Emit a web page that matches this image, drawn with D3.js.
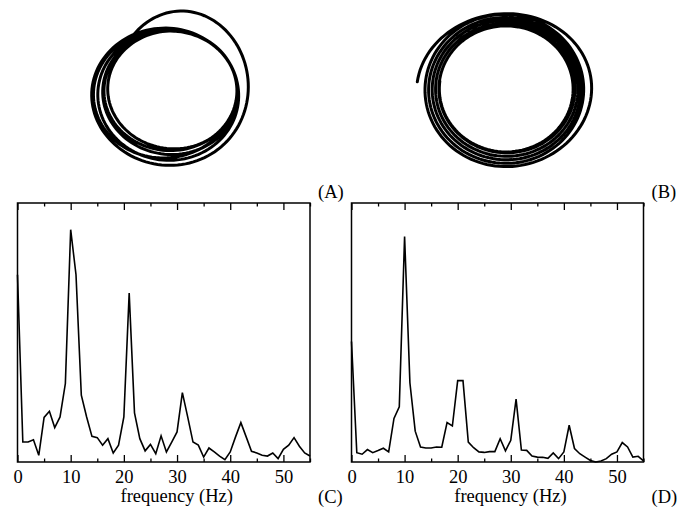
<!DOCTYPE html>
<html lang="en">
<head>
    <meta charset="UTF-8">
    <script src="https://d3js.org/d3.v7.min.js"></script>
    <title>Phase loops and spectra</title>
    <style>
        body { margin: 0; background: #fff; }
        svg text { font-family: "Liberation Serif", Times, "Times New Roman", "Nimbus Roman", "DejaVu Serif", serif !important; }
    </style>
</head>
<body>
    <script>
        // Spectrum amplitudes at 0..55 Hz (arbitrary units)
        const freqs = d3.range(0, 56);
        const spectrumC = [72.3, 7.7, 7.7, 8.6, 2.6, 17.2, 19.6, 13.3, 17.4, 30.3,
            89.7, 72.3, 25.8, 17.4, 9.9, 9.4, 6.5, 9.0, 3.5, 6.5,
            17.4, 65.2, 19.0, 9.0, 4.3, 6.8, 3.2, 10.1, 3.9, 7.7,
            11.6, 26.8, 17.4, 7.7, 6.5, 1.9, 5.4, 3.9, 2.3, 0.9,
            3.9, 9.7, 15.2, 9.7, 4.1, 3.5, 2.6, 2.3, 3.5, 1.3,
            4.9, 6.5, 9.4, 6.1, 3.5, 2.3];
        const spectrumD = [46.5, 3.6, 3.0, 4.8, 3.6, 4.4, 5.3, 3.9, 16.8, 21.3,
            87.1, 30.6, 11.9, 5.8, 5.4, 5.4, 5.8, 5.7, 15.2, 13.9,
            31.4, 31.4, 7.7, 5.5, 3.9, 3.7, 4.0, 4.0, 9.0, 4.3,
            8.4, 24.3, 4.6, 4.5, 2.3, 1.9, 1.8, 1.4, 3.5, 1.3,
            3.9, 14.2, 5.2, 3.2, 1.9, 0.6, 0.0, 0.4, 1.3, 3.0,
            3.9, 7.5, 5.8, 1.9, 2.2, 0.4];
        const majorTicks = [0, 10, 20, 30, 40, 50];
        const minorTicks = [5, 15, 25, 35, 45, 55];

        // Successive loops of each trajectory: centre (cx, cy) and radii (rx, ry)
        const loopsA = [
            [0.15, 0.0375, 0.86, 0.96],
            [-0.0875, -0.0875, 0.925, 0.8625],
            [-0.05, -0.05, 0.875, 0.80],
            [0.0, 0.025, 0.80, 0.7125],
            [-0.075, -0.075, 0.9125, 0.8375],
            [-0.025, -0.0125, 0.8375, 0.75],
            [-0.02, -0.01, 0.83, 0.745]
        ];
        const loopsB = [
            [0.025, -0.02, 1.13, 0.975],
            [0.0, 0.0, 1.0, 0.95],
            [0.005, 0.0, 0.96, 0.91],
            [0.01, 0.005, 0.92, 0.87],
            [0.012, 0.008, 0.88, 0.83],
            [0.014, 0.012, 0.84, 0.79],
            [0.014, 0.012, 0.835, 0.785]
        ];

        const W = 681, H = 512;
        const svg = d3.select("body").append("svg")
            .attr("width", W)
            .attr("height", H);

        // ---- trajectory loops (top row) ----
        function drawLoops(loops, cx, cy, startAngle) {
            const x = d3.scaleLinear().domain([-1, 1]).range([cx - 80, cx + 80]);
            const y = d3.scaleLinear().domain([-1, 1]).range([cy + 80, cy - 80]);
            const turns = loops.length - 1;
            const pts = [];
            const n = turns * 120;
            for (let i = 0; i <= n; i++) {
                const s = turns * i / n;
                const k = Math.min(Math.floor(s), loops.length - 2);
                const f = d3.easeSinInOut(Math.min(s - k, 1));
                const a = loops[k], b = loops[k + 1];
                const p = a.map((v, j) => v + (b[j] - v) * f);
                const th = startAngle - 2 * Math.PI * s;
                pts.push([p[0] + p[2] * Math.cos(th), p[1] + p[3] * Math.sin(th)]);
            }
            svg.append("path")
                .datum(pts)
                .attr("d", d3.line().x(d => x(d[0])).y(d => y(d[1])))
                .attr("fill", "none")
                .attr("stroke", "#000")
                .attr("stroke-width", 3)
                .attr("stroke-linecap", "round");
        }
        drawLoops(loopsA, 172, 90, Math.PI * 0.78);
        drawLoops(loopsB, 505, 90, Math.PI * 0.96);

        // ---- spectra (bottom row) ----
        function drawSpectrum(values, x0, x1, label, panel) {
            const x = d3.scaleLinear().domain([0, 55]).range([x0, x1]);
            const y = d3.scaleLinear().domain([0, 100]).range([462, 203]);
            const g = svg.append("g");

            // inward ticks, bottom and top
            const bottom = g.append("g").attr("transform", "translate(0,462)");
            bottom.call(d3.axisBottom(x).tickValues(majorTicks).tickSizeInner(-7).tickSizeOuter(0).tickPadding(8));
            bottom.append("g").call(d3.axisBottom(x).tickValues(minorTicks).tickSizeInner(-3.5).tickSizeOuter(0).tickFormat(""));
            const top = g.append("g").attr("transform", "translate(0,203)");
            top.call(d3.axisTop(x).tickValues(majorTicks).tickSizeInner(-7).tickSizeOuter(0).tickFormat(""));
            top.append("g").call(d3.axisTop(x).tickValues(minorTicks).tickSizeInner(-3.5).tickSizeOuter(0).tickFormat(""));
            g.selectAll(".domain").remove();
            g.selectAll("g").attr("font-family", null);
            g.selectAll(".tick line").attr("stroke", "#000").attr("stroke-width", 1.3);
            g.selectAll(".tick text")
                .attr("font-size", 18.5)
                .attr("fill", "#000");

            g.append("path")
                .datum(values)
                .attr("d", d3.line().x((d, i) => x(freqs[i])).y(d => y(d)))
                .attr("fill", "none")
                .attr("stroke", "#000")
                .attr("stroke-width", 1.6);

            g.append("rect")
                .attr("x", x0).attr("y", 203)
                .attr("width", x1 - x0).attr("height", 462 - 203)
                .attr("fill", "none")
                .attr("stroke", "#000")
                .attr("stroke-width", 1.5);

            g.append("text")
                .attr("x", (x0 + x1) / 2 + 13).attr("y", 502)
                .attr("text-anchor", "middle")
                .attr("font-size", 18.5)
                .text("frequency (Hz)");
            g.append("text")
                .attr("x", panel).attr("y", 503)
                .attr("font-size", 18.5)
                .text(label);
        }
        drawSpectrum(spectrumC, 17.5, 310, "(C)", 318);
        drawSpectrum(spectrumD, 351.5, 643.5, "(D)", 651.5);

        svg.append("text").attr("x", 318).attr("y", 198).attr("font-size", 18.5).text("(A)");
        svg.append("text").attr("x", 651.5).attr("y", 198).attr("font-size", 18.5).text("(B)");
    </script>
</body>
</html>
